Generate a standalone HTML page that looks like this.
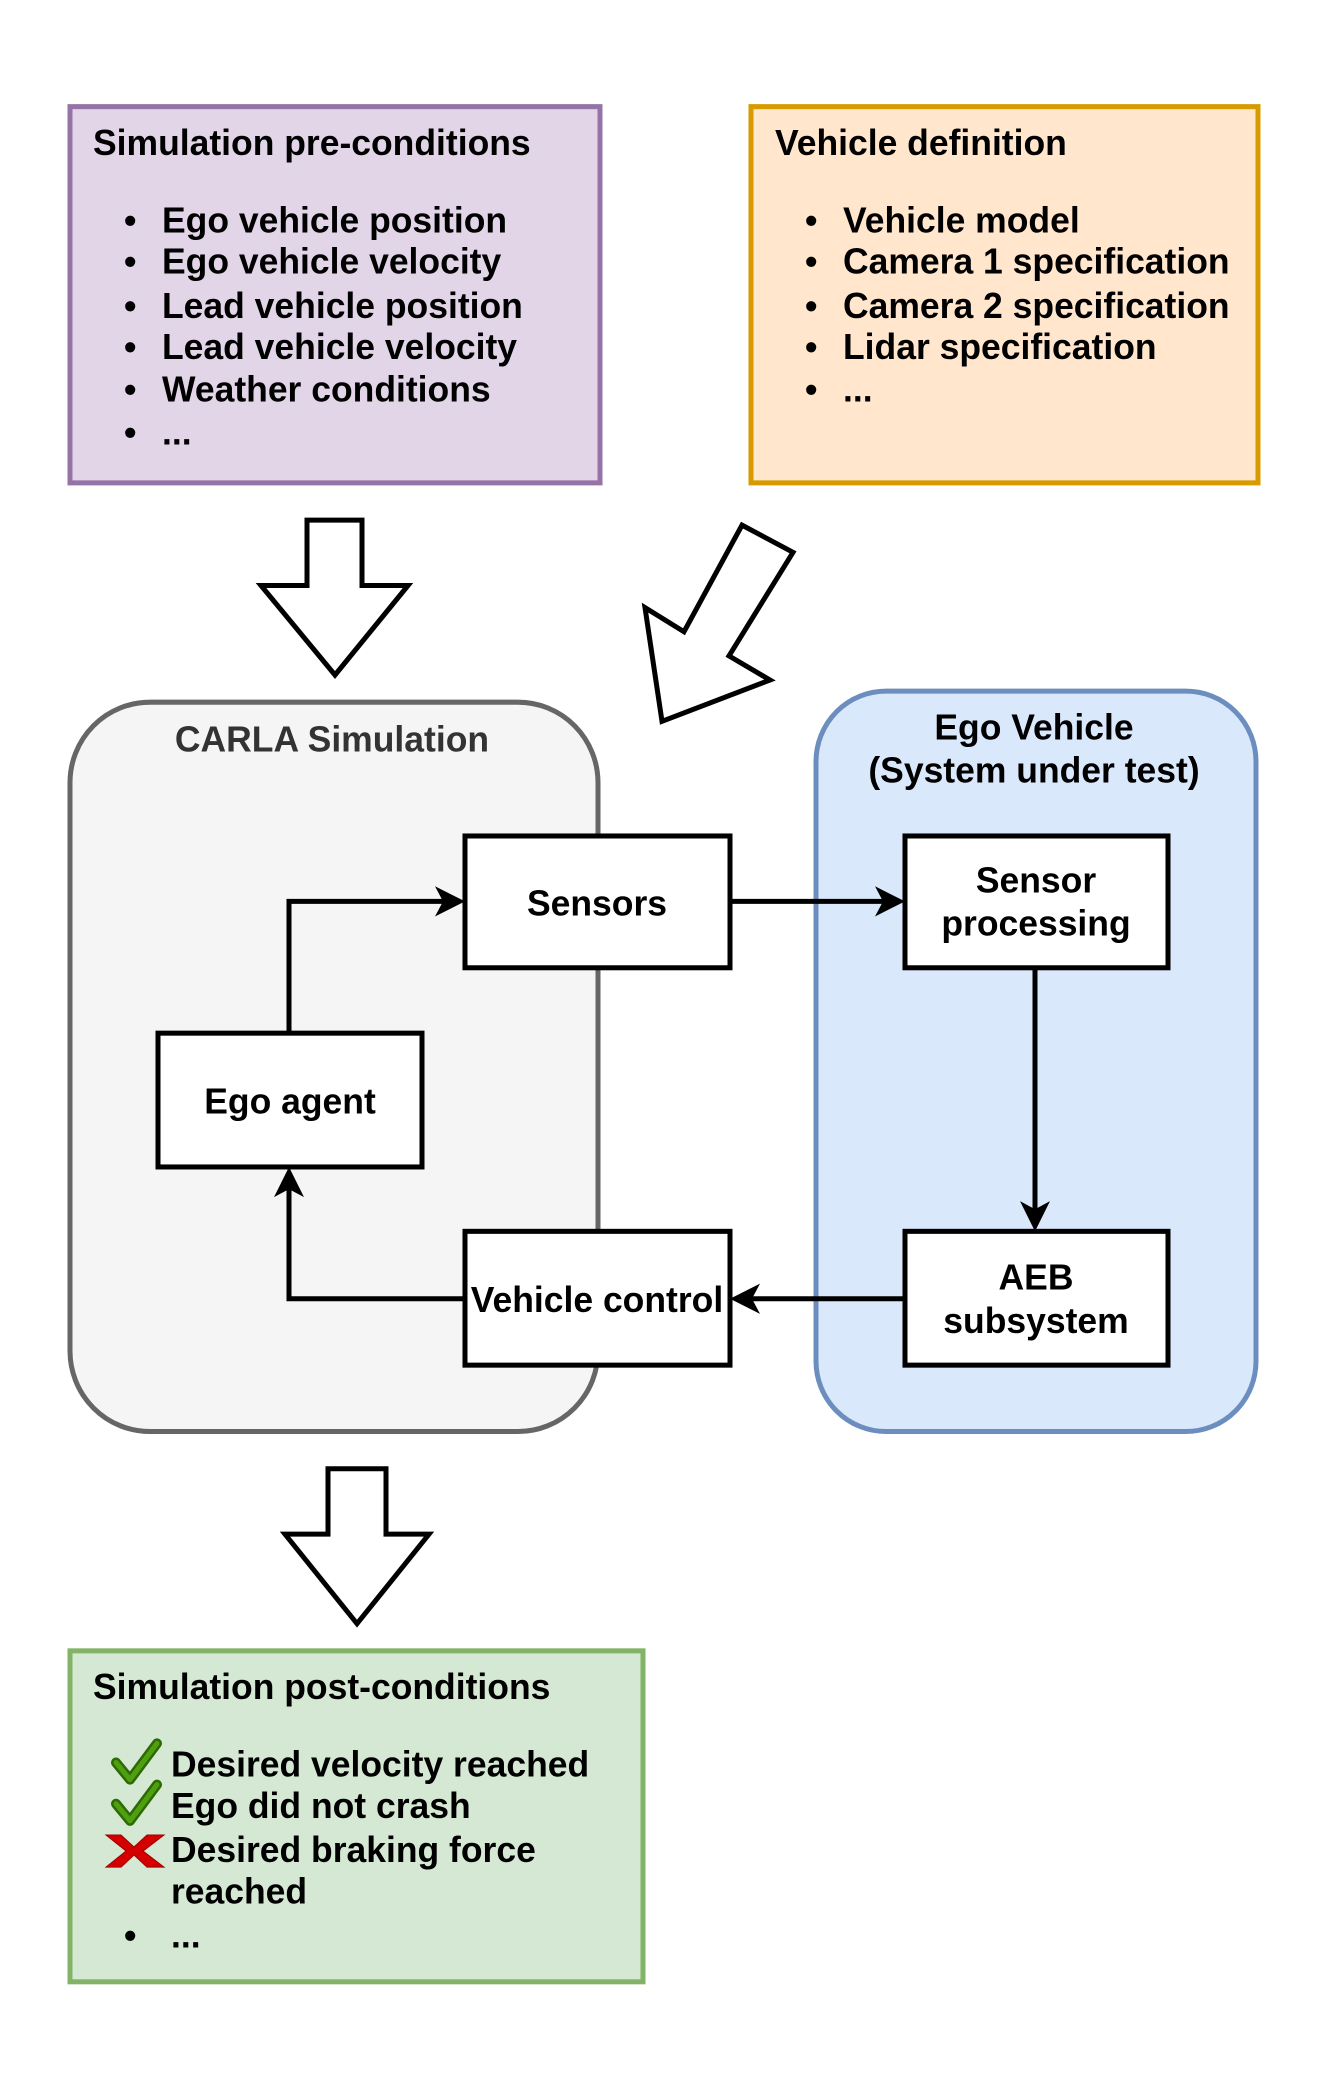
<!DOCTYPE html>
<html><head><meta charset="utf-8"><style>
body{margin:0;background:#fff}
svg text{font-family:"Liberation Sans",Arial,sans-serif;font-weight:bold;font-size:35.5px;fill:#000}
</style></head><body>
<svg width="1328" height="2091" xmlns="http://www.w3.org/2000/svg">
<g transform="scale(1 1.006)">
<rect x="70" y="106" width="530" height="374" fill="#e1d5e7" stroke="#9673a6" stroke-width="5"/>
<text x="93" y="154">Simulation pre-conditions</text>
<g>
<text x="124" y="231">•</text><text x="162" y="231">Ego vehicle position</text>
<text x="124" y="272">•</text><text x="162" y="272">Ego vehicle velocity</text>
<text x="124" y="316">•</text><text x="162" y="316">Lead vehicle position</text>
<text x="124" y="357">•</text><text x="162" y="357">Lead vehicle velocity</text>
<text x="124" y="399">•</text><text x="162" y="399">Weather conditions</text>
<text x="124" y="442">•</text><text x="162" y="442">...</text>
</g>
<rect x="751" y="106" width="507" height="374" fill="#ffe6cc" stroke="#d79b00" stroke-width="5"/>
<text x="775" y="154">Vehicle definition</text>
<text x="805" y="231">•</text><text x="843" y="231">Vehicle model</text>
<text x="805" y="272">•</text><text x="843" y="272">Camera 1 specification</text>
<text x="805" y="316">•</text><text x="843" y="316">Camera 2 specification</text>
<text x="805" y="357">•</text><text x="843" y="357">Lidar specification</text>
<text x="805" y="399">•</text><text x="843" y="399">...</text>

<polygon points="307,517 362,517 362,582 408,582 335,671 261,582 307,582" fill="#fff" stroke="#000" stroke-width="5"/>
<polygon points="742,522 793,549 729,652 770,676 662,717 645,604 684,628" fill="#fff" stroke="#000" stroke-width="5"/>

<rect x="70" y="698" width="528" height="725" rx="80" fill="#f5f5f5" stroke="#666" stroke-width="5"/>
<text x="332" y="747" text-anchor="middle" style="fill:#333">CARLA Simulation</text>
<rect x="816" y="687" width="440" height="736" rx="70" fill="#dae8fc" stroke="#6c8ebf" stroke-width="5"/>
<text x="1034" y="735" text-anchor="middle">Ego Vehicle</text>
<text x="1034" y="778" text-anchor="middle">(System under test)</text>

<g stroke="#000" stroke-width="5" fill="none">
<polyline points="289,1027 289,896 450,896"/>
<line x1="730" y1="896" x2="890" y2="896"/>
<line x1="1035" y1="962" x2="1035" y2="1209"/>
<line x1="905" y1="1291" x2="745" y2="1291"/>
<polyline points="465,1291 289,1291 289,1175"/>
</g>
<g fill="#000">
<polygon points="465,896 435,881 443,896 435,911"/>
<polygon points="905,896 875,881 883,896 875,911"/>
<polygon points="1035,1224 1020,1194 1035,1202 1050,1194"/>
<polygon points="730,1291 760,1276 752,1291 760,1306"/>
<polygon points="289,1160 274,1190 289,1182 304,1190"/>
</g>

<g fill="#fff" stroke="#000" stroke-width="5">
<rect x="465" y="831" width="265" height="131"/>
<rect x="905" y="831" width="263" height="131"/>
<rect x="158" y="1027" width="264" height="133"/>
<rect x="465" y="1224" width="265" height="133"/>
<rect x="905" y="1224" width="263" height="133"/>
</g>
<text x="597" y="910" text-anchor="middle">Sensors</text>
<text x="1036" y="887" text-anchor="middle">Sensor</text>
<text x="1036" y="930" text-anchor="middle">processing</text>
<text x="290" y="1107" text-anchor="middle">Ego agent</text>
<text x="597" y="1304" text-anchor="middle">Vehicle control</text>
<text x="1036" y="1282" text-anchor="middle">AEB</text>
<text x="1036" y="1325" text-anchor="middle">subsystem</text>

<polygon points="328,1460 386,1460 386,1525 429,1525 357,1614 285,1525 328,1525" fill="#fff" stroke="#000" stroke-width="5"/>

<rect x="70" y="1641" width="573" height="329" fill="#d5e8d4" stroke="#82b366" stroke-width="5"/>
<text x="93" y="1689">Simulation post-conditions</text>
<g stroke-linecap="round" stroke-linejoin="round" fill="none">
<path d="M116,1752 L130,1769 L157,1733" stroke="#2d6a05" stroke-width="10"/>
<path d="M116,1752 L130,1769 L157,1733" stroke="#4fa010" stroke-width="5"/>
<path d="M116,1793 L130,1810 L157,1774" stroke="#2d6a05" stroke-width="10"/>
<path d="M116,1793 L130,1810 L157,1774" stroke="#4fa010" stroke-width="5"/>
</g>
<path d="M106,1824 L121,1824 L134,1836 L147,1824 L164,1824 L143,1840 L164,1856 L147,1856 L134,1844 L121,1856 L106,1856 L126,1840 Z" fill="#d40000" stroke="#a00000" stroke-width="1"/>
<text x="171" y="1766">Desired velocity reached</text>
<text x="171" y="1807">Ego did not crash</text>
<text x="171" y="1851">Desired braking force</text>
<text x="171" y="1892">reached</text>
<text x="124" y="1936">•</text><text x="171" y="1936">...</text>
</g>
</svg>
</body></html>
